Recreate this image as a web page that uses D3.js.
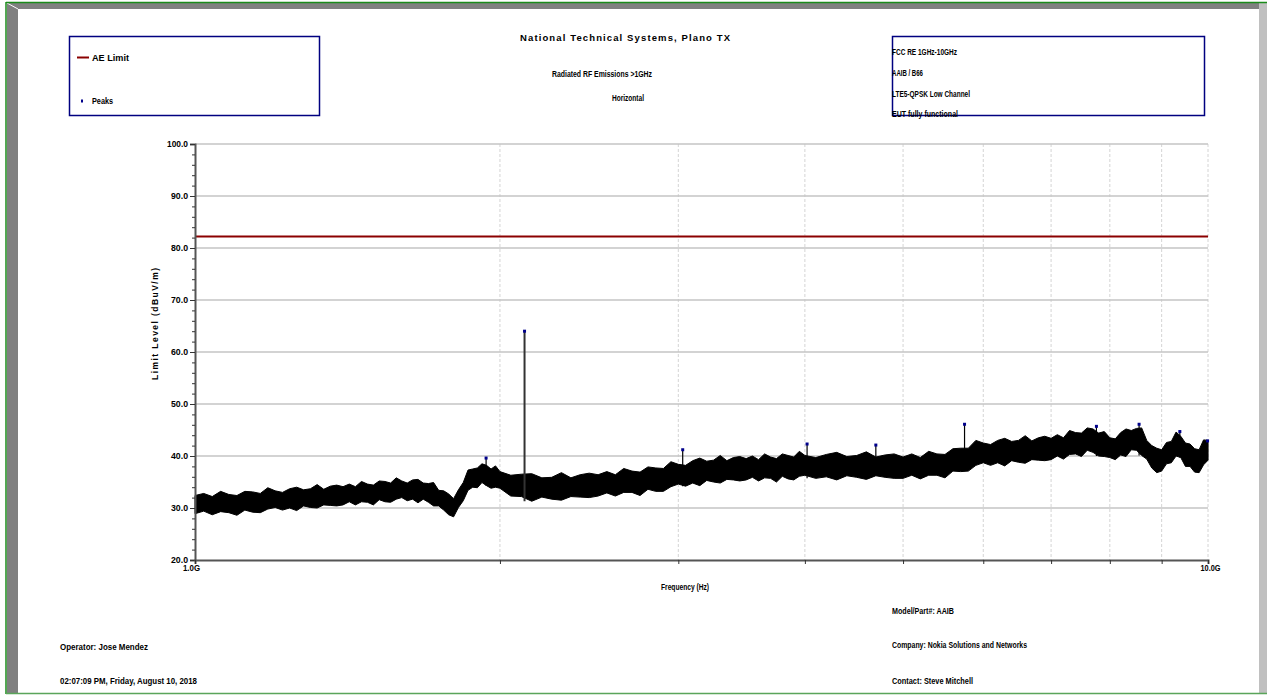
<!DOCTYPE html>
<html>
<head>
<meta charset="utf-8">
<script src="https://cdn.jsdelivr.net/npm/d3@7"></script>
<style>
  body { margin: 0; background: #fff; }
  text { font-family: "Liberation Sans Narrow", "Arial Narrow", "Liberation Sans", Arial, sans-serif; font-weight: bold; fill: #000; }
</style>
</head>
<body>
<div id="chart"></div>
<script>
// trace envelope: frequency (GHz), upper and lower edge (dBuV/m)
const traceFreq = [
  1.00, 1.02, 1.04, 1.06, 1.08, 1.10, 1.12, 1.14, 1.16, 1.18, 1.20, 1.22, 1.24, 1.26, 1.28, 1.30, 1.32, 1.34, 1.36, 1.38,
  1.40, 1.42, 1.44, 1.46, 1.48, 1.50, 1.52, 1.54, 1.56, 1.58, 1.60, 1.62, 1.64, 1.66, 1.68, 1.70, 1.72, 1.74, 1.76, 1.78,
  1.80, 1.82, 1.84, 1.86, 1.88, 1.90, 1.92, 1.94, 1.96, 1.98, 2.00,
  2.05, 2.10, 2.15, 2.20, 2.25, 2.30, 2.35, 2.40, 2.45, 2.50, 2.55, 2.60, 2.65, 2.70, 2.75, 2.80, 2.85, 2.90, 2.95, 3.00,
  3.05, 3.10, 3.15, 3.20, 3.25, 3.30, 3.35, 3.40, 3.45, 3.50, 3.55, 3.60, 3.65, 3.70, 3.75, 3.80, 3.85, 3.90, 3.95, 4.00,
  4.1, 4.2, 4.3, 4.4, 4.5, 4.6, 4.7, 4.8, 4.9, 5.0, 5.1, 5.2, 5.3, 5.4, 5.5, 5.6, 5.7, 5.8, 5.9, 6.0,
  6.1, 6.2, 6.3, 6.4, 6.5, 6.6, 6.7, 6.8, 6.9, 7.0, 7.1, 7.2, 7.3, 7.4, 7.5, 7.6, 7.7, 7.8, 7.9, 8.0,
  8.1, 8.2, 8.3, 8.4, 8.5, 8.6, 8.7, 8.8, 8.9, 9.0, 9.1, 9.2, 9.3, 9.4, 9.5, 9.6, 9.7, 9.8, 9.9, 10.0];
const traceHi = [
  32.4, 32.8, 32.2, 33.2, 32.6, 32.4, 33.2, 33.1, 32.8, 33.9, 33.3, 33.0, 33.7, 34.0, 33.5, 33.7, 34.5, 33.6, 34.2, 34.4,
  34.1, 34.6, 34.1, 35.1, 34.6, 34.4, 35.2, 35.1, 34.8, 35.8, 35.2, 34.8, 35.4, 35.5, 34.8, 34.7, 34.9, 33.4, 33.3, 32.7,
  31.8, 33.5, 34.9, 37.3, 37.5, 37.7, 38.5, 38.2, 37.5, 38.1, 37.0,
  36.3, 36.5, 36.6, 35.8, 35.9, 36.8, 35.8, 36.4, 36.7, 36.4, 37.0, 36.4, 37.6, 37.1, 36.9, 37.9, 37.7, 37.6, 38.9, 38.4,
  38.2, 39.1, 39.6, 39.0, 39.2, 40.1, 39.1, 39.7, 39.9, 39.5, 40.0, 39.3, 40.4, 39.8, 39.5, 40.4, 40.1, 39.8, 40.9, 40.1,
  39.7, 40.3, 40.7, 39.9, 40.1, 40.8, 39.8, 40.2, 40.4, 39.8, 40.4, 39.7, 40.9, 40.4, 40.3, 41.4, 41.5, 41.5, 43.0, 42.5,
  42.2, 43.0, 43.4, 42.8, 43.0, 43.9, 42.9, 43.5, 43.8, 43.4, 44.1, 43.5, 44.9, 44.5, 44.4, 45.4, 45.2, 44.4, 44.7, 43.5,
  43.3, 44.5, 45.2, 44.9, 45.3, 45.4, 43.0, 42.0, 41.5, 41.2, 42.6, 42.8, 44.6, 43.8, 42.5, 42.3, 41.4, 41.2, 43.1, 43.0];
const traceLo = [
  28.9, 29.4, 28.7, 29.3, 29.1, 28.6, 29.6, 29.2, 29.1, 29.8, 30.1, 29.6, 30.0, 29.5, 30.4, 30.1, 30.0, 30.6, 30.5, 30.4,
  30.6, 31.2, 30.6, 31.2, 31.1, 30.6, 31.6, 31.2, 31.1, 31.7, 32.0, 31.4, 31.7, 31.0, 31.7, 31.1, 30.4, 30.4, 29.6, 28.7,
  28.3, 30.1, 31.4, 33.4, 34.0, 33.9, 34.9, 34.3, 33.8, 34.0, 33.8,
  32.3, 32.2, 31.3, 32.1, 31.7, 31.5, 32.2, 32.1, 32.0, 32.3, 32.9, 32.3, 33.0, 33.0, 32.4, 33.6, 33.2, 33.2, 34.1, 34.6,
  34.2, 34.8, 34.3, 35.3, 35.0, 34.8, 35.5, 35.4, 35.2, 35.4, 35.9, 35.2, 35.8, 35.7, 35.0, 36.1, 35.6, 35.4, 36.1, 36.3,
  35.7, 36.0, 35.4, 36.2, 35.9, 35.5, 36.2, 35.9, 35.7, 35.7, 36.3, 35.6, 36.3, 36.3, 35.8, 37.1, 37.0, 37.1, 38.2, 38.7,
  38.2, 38.7, 38.1, 39.1, 38.8, 38.6, 39.3, 39.2, 39.1, 39.3, 40.0, 39.4, 40.3, 40.4, 39.9, 41.1, 40.7, 40.0, 39.9, 39.7,
  39.3, 40.2, 39.9, 41.2, 41.1, 40.1, 39.4, 37.7, 36.8, 37.1, 38.5, 38.7, 40.0, 39.7, 38.0, 38.0, 36.9, 36.8, 38.3, 39.2];

// detected peaks (GHz, dBuV/m)
const peakFreq  = [1.938, 2.115, 3.03, 4.02, 4.70, 5.75, 7.76, 8.55, 9.38, 9.99];
const peakLevel = [39.7, 64.1, 41.3, 42.4, 42.2, 46.2, 45.8, 46.2, 44.8, 43.0];

// AE limit line
const limitFreq  = [1.0, 10.0];
const limitLevel = [82.2, 82.2];

const yTicks = [20, 30, 40, 50, 60, 70, 80, 90, 100];
const xTicks = [1, 2, 3, 4, 5, 6, 7, 8, 9, 10];

const W = 1267, H = 695;
const svg = d3.select("#chart").append("svg").attr("width", W).attr("height", H);

// frame
svg.append("rect").attr("x", 0).attr("y", 0).attr("width", W).attr("height", H).attr("fill", "#fff");
svg.append("rect").attr("x", 7).attr("y", 3).attr("width", 1252).attr("height", 6).attr("fill", "#808080");
svg.append("rect").attr("x", 7).attr("y", 3).attr("width", 11).attr("height", 690).attr("fill", "#808080");
svg.append("rect").attr("x", 1259).attr("y", 3).attr("width", 8).attr("height", 690).attr("fill", "#c0c0c0");
svg.append("line").attr("x1", 7).attr("y1", 3).attr("x2", 18).attr("y2", 9).attr("stroke", "#fff");
svg.append("line").attr("x1", 6).attr("y1", 2.5).attr("x2", W).attr("y2", 2.5).attr("stroke", "#1a8a1a").attr("stroke-width", 1.5);
svg.append("line").attr("x1", 6).attr("y1", 2).attr("x2", 6).attr("y2", 694).attr("stroke", "#1a8a1a").attr("stroke-width", 1.5);
svg.append("line").attr("x1", 6).attr("y1", 693.5).attr("x2", W).attr("y2", 693.5).attr("stroke", "#5aa55a").attr("stroke-width", 1.5);

// scales
const x = d3.scaleLog().domain([1, 10]).range([195, 1208]);
const y = d3.scaleLinear().domain([20, 100]).range([560, 144]);

// grid
svg.append("g").selectAll("line").data(xTicks.slice(1)).join("line")
  .attr("x1", d => x(d)).attr("x2", d => x(d)).attr("y1", 144).attr("y2", 560)
  .attr("stroke", "#d4d4d4").attr("stroke-dasharray", "3,2");
svg.append("g").selectAll("line").data(yTicks.slice(1)).join("line")
  .attr("x1", 195).attr("x2", 1208).attr("y1", d => y(d)).attr("y2", d => y(d))
  .attr("stroke", "#c4c4c4").attr("stroke-width", 1.5);

// limit
const limit = limitFreq.map((f, i) => [f, limitLevel[i]]);
svg.append("path").datum(limit)
  .attr("d", d3.line().x(d => x(d[0])).y(d => y(d[1])))
  .attr("stroke", "#8b0000").attr("stroke-width", 2).attr("fill", "none");

// trace band
const trace = traceFreq.map((f, i) => ({ f, hi: traceHi[i], lo: traceLo[i] }));
svg.append("path").datum(trace)
  .attr("d", d3.area().x(d => x(d.f)).y0(d => y(d.lo)).y1(d => y(d.hi)))
  .attr("fill", "#000").attr("stroke", "#000").attr("stroke-width", 1);

// peak spikes + markers
const peaks = peakFreq.map((f, i) => ({ f, v: peakLevel[i] }));
const loAt = f => traceLo[Math.max(1, d3.bisectLeft(traceFreq, f))];
svg.append("g").selectAll("line").data(peaks).join("line")
  .attr("x1", d => x(d.f)).attr("x2", d => x(d.f))
  .attr("y1", d => y(d.v)).attr("y2", d => y(loAt(d.f)))
  .attr("stroke", d => d.v > 55 ? "#333" : "#000").attr("stroke-width", d => d.v > 55 ? 2 : 1.2);
svg.append("g").selectAll("rect").data(peaks).join("rect")
  .attr("x", d => x(d.f) - 1.5).attr("y", d => y(d.v) - 1)
  .attr("width", 3).attr("height", 3).attr("fill", "#00008b");

// axes
const yAxis = svg.append("g").attr("transform", "translate(195,0)")
  .call(d3.axisLeft(y).tickValues(yTicks).tickSize(5).tickPadding(2).tickFormat(d3.format(".1f")));
svg.append("g").attr("transform", "translate(195,0)")
  .call(d3.axisLeft(y).tickValues(d3.range(20, 100, 2)).tickSize(3).tickFormat(""))
  .select(".domain").remove();
const xAxis = svg.append("g").attr("transform", "translate(0,560)")
  .call(d3.axisBottom(x).tickValues(xTicks).tickSize(4).tickPadding(1)
    .tickFormat(d => d === 1 ? "1.0G" : d === 10 ? "10.0G" : ""));
[yAxis, xAxis].forEach(a => {
  a.select(".domain").attr("stroke", "#555").attr("stroke-width", 2);
  a.selectAll("text").attr("font-size", 9).attr("font-family", null).attr("fill", "#000")
    .attr("lengthAdjust", "spacingAndGlyphs");
});
yAxis.selectAll(".tick text").attr("textLength", d => d === 100 ? 21 : 17);
xAxis.selectAll(".tick text").attr("dx", d => d === 1 ? -4 : 2)
  .attr("textLength", d => d === 1 ? 17 : d === 10 ? 20 : null);
svg.selectAll(".tick line").attr("stroke", "#333");

// text helper
function label(str, px, py, w, opts = {}) {
  const t = svg.append("text").attr("x", px).attr("y", py)
    .attr("font-size", opts.size || 9).text(str);
  if (w) t.attr("textLength", w).attr("lengthAdjust", opts.adjust || "spacingAndGlyphs");
  if (opts.anchor) t.attr("text-anchor", opts.anchor);
  return t;
}

label("National Technical Systems, Plano TX", 520, 41, 210, { size: 9.5, adjust: "spacing" });
label("Radiated RF Emissions >1GHz", 552, 77, 100);
label("Horizontal", 612, 101, 32);

// axis titles
label("Frequency (Hz)", 661, 590, 48);
svg.append("text").attr("transform", "translate(158,324) rotate(-90)")
  .attr("text-anchor", "middle").attr("font-size", 8.5)
  .attr("textLength", 112).attr("lengthAdjust", "spacing")
  .text("Limit Level (dBuV/m)");

// legend box
svg.append("rect").attr("x", 69.5).attr("y", 36.5).attr("width", 250).attr("height", 79)
  .attr("fill", "none").attr("stroke", "#000080").attr("stroke-width", 1.5);
svg.append("line").attr("x1", 77).attr("x2", 89).attr("y1", 57.5).attr("y2", 57.5)
  .attr("stroke", "#8b0000").attr("stroke-width", 2);
label("AE Limit", 92, 61, 37);
svg.append("rect").attr("x", 81).attr("y", 99.5).attr("width", 2).attr("height", 3).attr("fill", "#00008b");
label("Peaks", 92, 104, 21);

// info box
svg.append("rect").attr("x", 892.5).attr("y", 36.5).attr("width", 312).attr("height", 79)
  .attr("fill", "none").attr("stroke", "#000080").attr("stroke-width", 1.5);
label("FCC RE 1GHz-10GHz", 892, 55, 65);
label("AAIB / B66", 892, 76, 31);
label("LTE5-QPSK Low Channel", 892, 97, 78);
label("EUT fully functional", 892, 117, 66);

// footer
label("Model/Part#: AAIB", 892, 614, 62);
label("Company: Nokia Solutions and Networks", 892, 648, 135);
label("Contact: Steve Mitchell", 892, 684, 81);
label("Operator: Jose Mendez", 60, 650, 88);
label("02:07:09 PM, Friday, August 10, 2018", 60, 684, 137);
</script>
</body>
</html>
